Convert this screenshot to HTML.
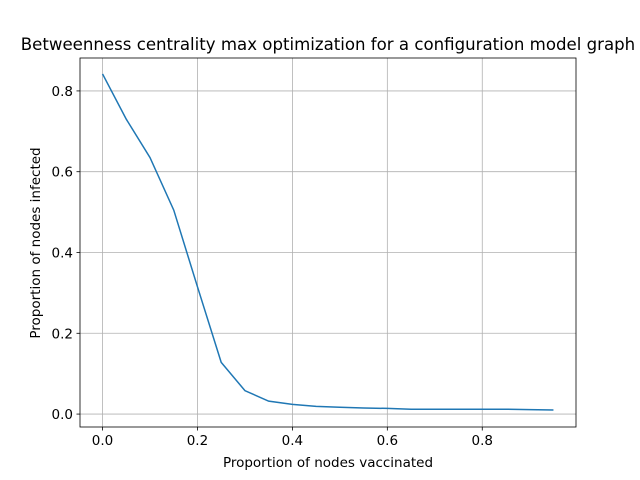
<!DOCTYPE html>
<html><head><meta charset="utf-8"><style>
body{margin:0;background:#fff}
svg{display:block;font-family:"DejaVu Sans","Liberation Sans",sans-serif}
</style></head><body>
<svg id="chart" width="640" height="480"></svg>
<script>
const xValues=[0,0.05,0.1,0.15,0.2,0.25,0.3,0.35,0.4,0.45,0.5,0.55,0.6,0.65,0.7,0.75,0.8,0.85,0.9,0.95];
const yValues=[0.842,0.73,0.635,0.505,0.315,0.128,0.058,0.032,0.024,0.019,0.017,0.015,0.014,0.012,0.012,0.012,0.012,0.012,0.011,0.010];
const xTicks=[0,0.2,0.4,0.6,0.8];
const yTicks=[0,0.2,0.4,0.6,0.8];
const L=80,R=576,T=58,B=427;
const xmin=-0.0475,xmax=0.9975,ymin=-0.032,ymax=0.8815;
const sx=v=>L+(v-xmin)/(xmax-xmin)*(R-L);
const sy=v=>B-(v-ymin)/(ymax-ymin)*(B-T);
const svg=document.getElementById('chart');
const NS='http://www.w3.org/2000/svg';
function mk(tag,attrs,parent){const e=document.createElementNS(NS,tag);for(const k in attrs)e.setAttribute(k,attrs[k]);(parent||svg).appendChild(e);return e;}
xTicks.forEach(t=>{
  const x=sx(t);
  const g=mk('line',{x1:x,x2:x,y1:T,y2:B,stroke:'#b0b0b0','stroke-width':0.8});
  
  
  mk('line',{x1:x,x2:x,y1:B,y2:B+3.5,stroke:'#000','stroke-width':0.8});
  const tx=mk('text',{x:x,y:B+18,'text-anchor':'middle','font-size':'13.5px'});
  tx.textContent=t.toFixed(1);
  
  
});
yTicks.forEach(t=>{
  const y=sy(t);
  const g=mk('line',{x1:L,x2:R,y1:y,y2:y,stroke:'#b0b0b0','stroke-width':0.8});
  
  
  mk('line',{x1:L-3.5,x2:L,y1:y,y2:y,stroke:'#000','stroke-width':0.8});
  const tx=mk('text',{x:L-7,y:y+5,'text-anchor':'end','font-size':'13.5px'});
  tx.textContent=t.toFixed(1);
  
  
});
const pl=mk('polyline',{points:xValues.map((x,i)=>sx(x)+','+sy(yValues[i])).join(' '),fill:'none',stroke:'#1f77b4','stroke-width':1.5});


const fr=mk('rect',{x:L,y:T,width:R-L,height:B-T,fill:'none',stroke:'#000','stroke-width':0.8});


const ti=mk('text',{x:328,y:50,'text-anchor':'middle','font-size':'16.6px'});
ti.textContent='Betweenness centrality max optimization for a configuration model graph';


const xl=mk('text',{x:328,y:467,'text-anchor':'middle','font-size':'13.5px'});
xl.textContent='Proportion of nodes vaccinated';


const yl=mk('text',{x:0,y:0,'text-anchor':'middle','font-size':'13.5px',transform:'translate(40,243) rotate(-90)'});
yl.textContent='Proportion of nodes infected';


</script>
</body></html>
